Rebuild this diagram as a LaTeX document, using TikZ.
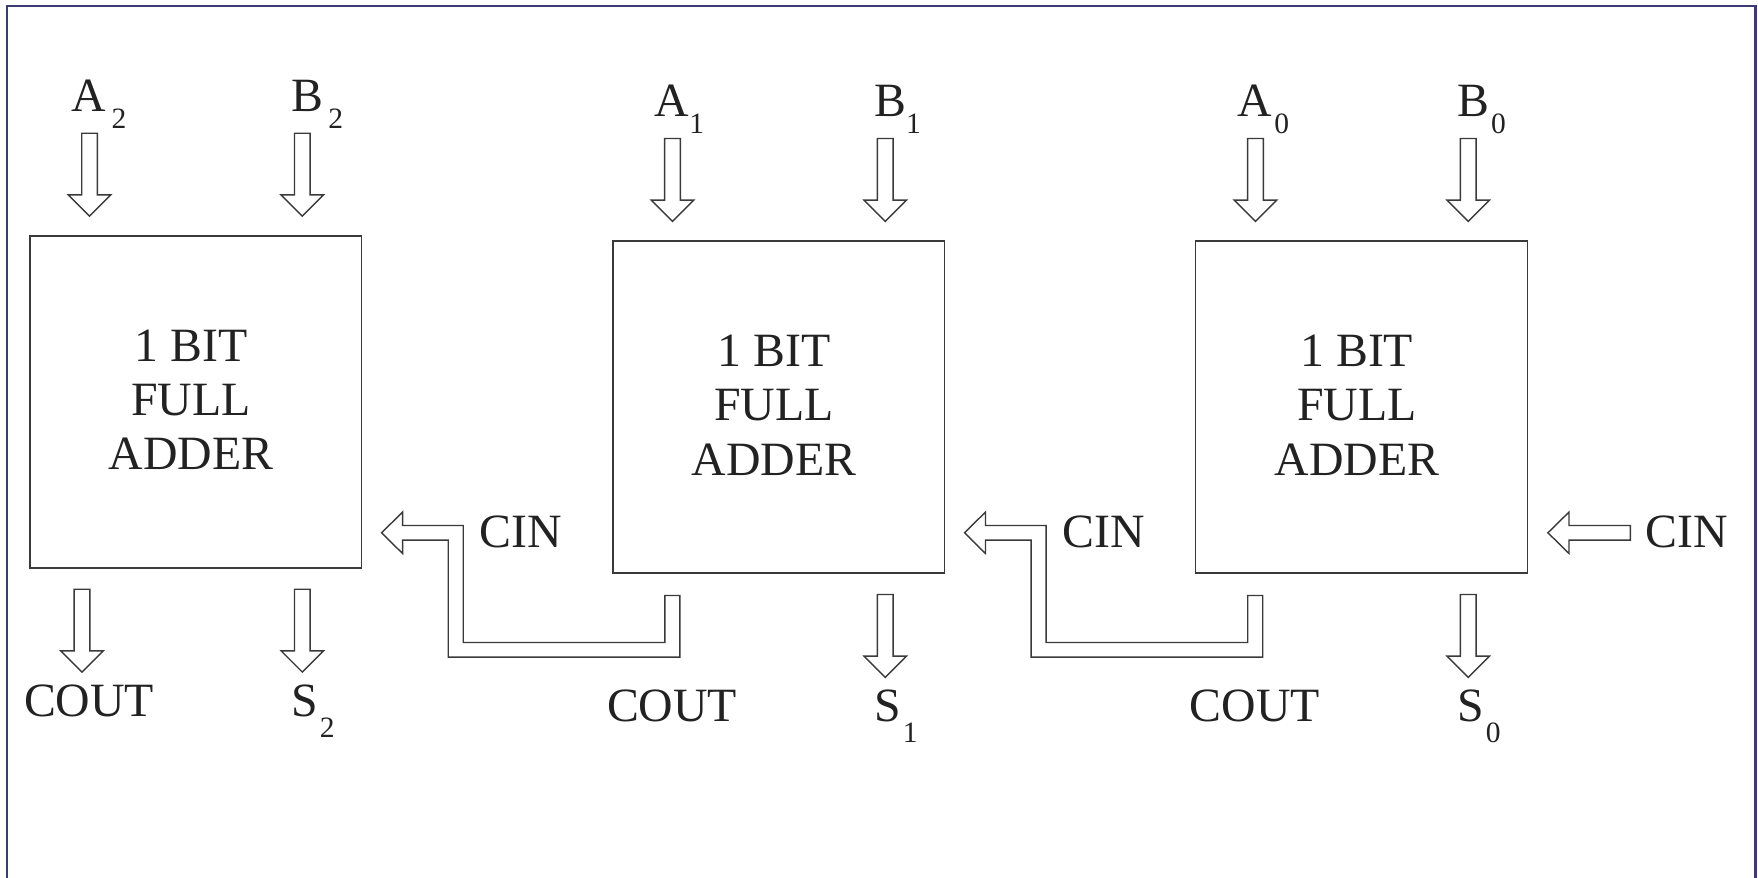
\documentclass[tikz,border=0pt]{standalone}
\usepackage{fontspec}
\setmainfont{Liberation Serif}
\usetikzlibrary{calc}
\definecolor{ink}{HTML}{3A3A3A}
\definecolor{txt}{HTML}{222222}
\definecolor{framec}{HTML}{3C3C70}
\tikzset{
  x=0.028cm, y=-0.028cm,
  fabox/.style={draw=ink, line width=1.3pt, minimum width=8.299cm, minimum height=8.302cm, inner sep=0pt},
  barrow/.style={draw=ink, line width=1pt, line join=miter, fill=white},
  big/.style={font=\fontsize{34}{38.6}\selectfont, text=txt, inner sep=0pt},
  lbl/.style={big, anchor=base west},
  clbl/.style={big, anchor=base},
  framestyle/.style={draw=framec, line width=1.8pt},
}
\newcommand\sublab[3]{\hspace{#1}\raisebox{-#2}{\fontsize{21}{21}\selectfont #3}}
\newcommand\hollowdown[1]{\draw[barrow] (#1) ++(-7,0) -- ++(14,0) -- ++(0,55) -- ++(12,0) -- ++(-19,19) -- ++(-19,-19) -- ++(12,0) -- cycle;}
\newcommand\carrypath[1]{\draw[barrow] (#1) -- ++(18.7,-18.5) -- ++(0,12) -- ++(54.2,0) -- ++(0,104.5) -- ++(180,0) -- ++(0,-42) -- ++(13.4,0) -- ++(0,55.1) -- ++(-206.8,0) -- ++(0,-104.6) -- ++(-40.8,0) -- ++(0,12) -- cycle;}
\begin{document}
\begin{tikzpicture}
\useasboundingbox (0,0) rectangle (1570,784.1);
\fill[white] (0,0) rectangle (1570,784.1);
\draw[framestyle] (6.25,800) -- (6.25,5.4) -- (1567.9,5.4) -- (1567.9,800);

\foreach \i/\dx/\dy/\g in {2/0/0/0.13cm, 1/520.6/4.7/0cm, 0/1041.2/4.7/0.05cm}{
  \begin{scope}[shift={(\dx,\dy)}]
    \node[fabox] (fa\i) at (174.7,358.95) {};
    \node[big, align=center] (fat\i) at (170.5,357) {1 BIT\\FULL\\ADDER};
    \node[lbl] (la\i) at (64,99.7) {A\sublab{\g}{0.42cm}{\i}};
    \node[lbl] (lb\i) at (260,99.7) {B\sublab{\g}{0.42cm}{\i}};
    \coordinate (ina\i) at (80,119);
    \coordinate (inb\i) at (270,119);
    \coordinate (outs\i) at (270,526.2);
    \node[clbl] (lc\i) at (79.6,639.9) {COUT};
    \node[lbl] (ls\i) at (260,639.9) {S\sublab{0.05cm}{0.52cm}{\i}};
  \end{scope}
  \hollowdown{ina\i}
  \hollowdown{inb\i}
  \hollowdown{outs\i}
}
% carry out of the leftmost adder
\coordinate (outc2) at (73.2,526.2);
\hollowdown{outc2}

% carry-in tips and CIN labels
\coordinate (cin2) at (340.8,475.8);
\coordinate (cin1) at (861.4,475.8);
\coordinate (cin0) at (1382.4,475.8);
\node[lbl] (lcin2) at (428,488.7) {CIN};
\node[lbl] (lcin1) at (948.6,488.7) {CIN};
\node[lbl] (lcin0) at (1469.2,488.7) {CIN};

% carry connectors COUT(1) -> CIN(2), COUT(0) -> CIN(1)
\carrypath{cin2}
\carrypath{cin1}
% external carry in
\draw[barrow] (cin0) -- ++(18.8,-18.5) -- ++(0,12) -- ++(54.8,0) -- ++(0,13) -- ++(-54.8,0) -- ++(0,12) -- cycle;
\end{tikzpicture}
\end{document}
